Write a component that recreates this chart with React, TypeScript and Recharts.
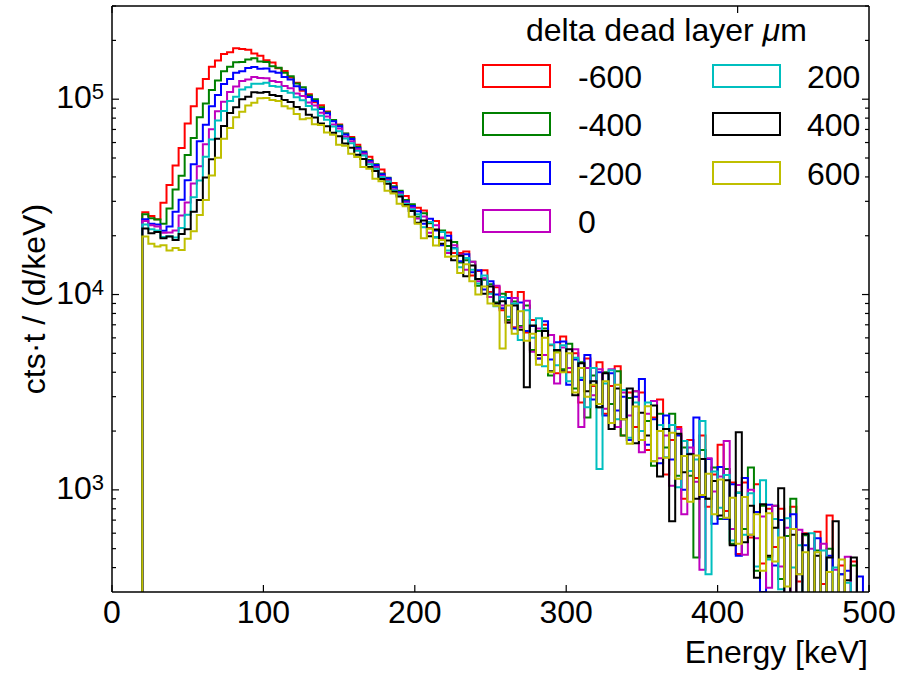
import React from "react";
import { LineChart, Line, XAxis, YAxis, Legend } from "recharts";

const FONT = '"Liberation Sans", Arial, Helvetica, sans-serif';

// histogram bin edges [keV], 4 keV wide
const binEdges = [
  20, 24, 28, 32, 36, 40, 44, 48, 52, 56,
  60, 64, 68, 72, 76, 80, 84, 88, 92, 96,
  100, 104, 108, 112, 116, 120, 124, 128, 132, 136,
  140, 144, 148, 152, 156, 160, 164, 168, 172, 176,
  180, 184, 188, 192, 196, 200, 204, 208, 212, 216,
  220, 224, 228, 232, 236, 240, 244, 248, 252, 256,
  260, 264, 268, 272, 276, 280, 284, 288, 292, 296,
  300, 304, 308, 312, 316, 320, 324, 328, 332, 336,
  340, 344, 348, 352, 356, 360, 364, 368, 372, 376,
  380, 384, 388, 392, 396, 400, 404, 408, 412, 416,
  420, 424, 428, 432, 436, 440, 444, 448, 452, 456,
  460, 464, 468, 472, 476, 480, 484, 488, 492, 496,
  500,
];

const deltaLabels = ["-600", "-400", "-200", "0", "200", "400", "600"];

// cts*t / (d/keV) per bin
const countsM600 = [
  26400, 25200, 24300, 29500, 36400, 45800, 56200, 75000, 92000, 113500,
  127000, 146500, 158000, 170500, 174000, 182500, 180500, 179000, 171500, 167000,
  158500, 154000, 144000, 139500, 129000, 121500, 110500, 106000, 96500, 93000,
  86500, 77500, 74200, 66500, 64000, 58500, 52800, 50800, 45200, 43600,
  38700, 37200, 33100, 31900, 28600, 27800, 26900, 21900, 23800, 19400,
  20800, 16300, 16300, 16600, 12500, 13200, 13300, 10300, 10900, 8300,
  10300, 6800, 10300, 6400, 7400, 4700, 7000, 5500, 3950, 6100,
  4000, 5000, 2800, 4700, 3400, 4500, 2450, 3400, 4300, 1900,
  3150, 2100, 3150, 1600, 2350, 2900, 1200, 1800, 2100, 900,
  1800, 1150, 1900, 820, 1200, 1700, 780, 1090, 470, 1090,
  570, 1070, 420, 800, 510, 800, 270, 820, 340, 600,
  255, 610, 330, 740, 215, 410, 180, 430, 190, 125,
];
const countsM400 = [
  25800, 24600, 24200, 23000, 27600, 34500, 40600, 51800, 63300, 80800,
  95000, 111500, 124500, 139000, 146500, 154500, 155000, 159500, 162000, 156000,
  155000, 147500, 145000, 136500, 131000, 120500, 115000, 104500, 100000, 91000,
  85800, 78200, 73600, 66800, 63200, 57100, 54000, 48800, 46500, 41700,
  39600, 35800, 34000, 30500, 29000, 25000, 26100, 23200, 19600, 21300,
  17700, 18600, 14600, 15000, 14700, 11100, 11900, 11300, 9100, 10100,
  7400, 9200, 6900, 8800, 5200, 6500, 6700, 3850, 5100, 4150,
  5600, 3300, 4500, 2350, 3850, 2650, 4000, 2750, 4050, 1900,
  2950, 3200, 1800, 2250, 1330, 2450, 1650, 2450, 1180, 1650,
  1180, 450, 1600, 900, 1300, 710, 1280, 530, 970, 630,
  1300, 385, 830, 450, 830, 350, 580, 900, 240, 585,
  290, 490, 215, 500, 260, 370, 190, 410, 180, 125,
];
const countsM200 = [
  24300, 23000, 22800, 21200, 22300, 26500, 30600, 38500, 46500, 61000,
  74000, 92000, 105000, 119500, 127000, 136500, 139000, 144500, 146000, 143000,
  143500, 138500, 136500, 130000, 126000, 116500, 112000, 102500, 98000, 89000,
  84800, 77000, 72800, 66000, 62600, 56200, 53500, 48300, 46000, 41300,
  39400, 35400, 33500, 30000, 28400, 26700, 23000, 24400, 21300, 17900,
  20000, 17300, 14800, 16100, 13000, 13300, 10600, 11700, 10000, 8500,
  9600, 6700, 9100, 6500, 6900, 4700, 7300, 4650, 5700, 5750,
  3450, 4650, 3650, 4900, 2900, 4000, 2400, 3950, 2550, 3000,
  1800, 3000, 3700, 1700, 2300, 1370, 2400, 1430, 1900, 1000,
  1530, 2350, 920, 1440, 670, 1310, 710, 1070, 460, 1150,
  590, 770, 300, 840, 410, 700, 275, 750, 370, 520,
  235, 565, 275, 460, 175, 370, 385, 190, 360, 110,
];
const counts0 = [
  23800, 22600, 22300, 20700, 20800, 21300, 25400, 29600, 37000, 45400,
  58800, 70200, 86800, 97000, 109000, 116000, 124000, 126000, 130000, 128500,
  128000, 124000, 122500, 117000, 113800, 107000, 103800, 96200, 92800, 85200,
  81600, 74300, 70800, 64300, 61000, 55400, 52600, 47400, 45000, 40500,
  38400, 34600, 32900, 29600, 27800, 24500, 25100, 20700, 22600, 19600,
  16300, 17900, 16000, 13400, 14700, 11700, 12100, 9700, 11100, 8800,
  7200, 9600, 6800, 9300, 5100, 6700, 4900, 6200, 3500, 5350,
  4200, 5250, 2100, 4200, 3050, 4150, 2600, 4150, 2100, 3150,
  2400, 3200, 1560, 2450, 2850, 1450, 1900, 1050, 2050, 750,
  1650, 1100, 390, 1450, 980, 1170, 1780, 630, 1060, 465,
  1000, 565, 730, 315, 830, 405, 640, 280, 625, 280,
  500, 210, 530, 260, 390, 190, 455, 200, 160, 110,
];
const countsP200 = [
  22800, 21600, 21300, 19700, 19900, 19600, 21900, 25600, 31500, 38400,
  50700, 62200, 77800, 87000, 98000, 103000, 112000, 115000, 120000, 120000,
  121500, 117000, 115800, 110000, 107800, 102200, 98800, 92200, 88600, 82300,
  78600, 72400, 68600, 62900, 59500, 54400, 51500, 46500, 44000, 40000,
  37900, 34100, 32400, 29200, 27300, 25800, 22100, 23500, 19700, 20900,
  16800, 17200, 13800, 15400, 13400, 11400, 12500, 10100, 8700, 9700,
  7700, 9000, 5850, 8300, 6000, 7550, 4300, 5550, 4350, 5500,
  3600, 4750, 3750, 2650, 4200, 1280, 3500, 4100, 2300, 3250,
  1850, 2800, 2000, 2800, 1400, 2150, 1470, 2150, 1030, 1780,
  1250, 1430, 2250, 370, 1240, 810, 1190, 550, 965, 590,
  960, 405, 1120, 440, 710, 310, 715, 400, 520, 235,
  600, 280, 490, 205, 400, 235, 335, 175, 145, 110,
];
const countsP400 = [
  21800, 20600, 20900, 19400, 19800, 19000, 20400, 21600, 26500, 30500,
  39700, 49200, 62800, 73000, 85000, 91000, 100000, 103000, 108500, 108000,
  109000, 105000, 103800, 99000, 96800, 91200, 88700, 83200, 80700, 75200,
  72600, 67300, 64600, 59400, 56500, 52000, 49400, 45000, 42900, 39000,
  36900, 33600, 31800, 28700, 26800, 23300, 23900, 19900, 21500, 18200,
  18900, 15000, 15800, 12400, 14100, 12000, 10100, 11000, 9000, 9250,
  7200, 8800, 6600, 3350, 6950, 4900, 6500, 4050, 5200, 4050,
  5250, 3050, 4450, 3200, 3600, 2650, 3950, 2050, 3300, 2300,
  3300, 1730, 2480, 1900, 2700, 1170, 2050, 690, 1940, 1230,
  1520, 900, 1440, 900, 1110, 740, 1120, 520, 1970, 540,
  830, 355, 845, 460, 640, 1020, 285, 590, 290, 595,
  210, 460, 260, 450, 690, 200, 345, 450, 155, 110,
];
const countsP600 = [
  19800, 18200, 17600, 17900, 16800, 17300, 16900, 19300, 21100, 25500,
  30500, 40700, 50200, 62800, 71200, 80800, 86200, 92800, 96000, 101000,
  101500, 99000, 97800, 92000, 89600, 84000, 79000, 80000, 74500, 73800,
  67500, 65800, 58500, 57800, 52600, 50600, 45000, 44000, 39200, 38000,
  34000, 32900, 29200, 28300, 25000, 23000, 19400, 21700, 17800, 19000,
  15600, 15700, 12900, 14300, 11700, 10000, 11000, 9000, 8750, 5300,
  8800, 6300, 8200, 5800, 6300, 4370, 6000, 4000, 5050, 4000,
  5000, 3150, 4200, 3000, 3450, 2750, 3600, 2200, 3450, 2300,
  1720, 2670, 1800, 2680, 1400, 2000, 1460, 1960, 1140, 1490,
  870, 1500, 940, 1210, 750, 1130, 720, 910, 530, 920,
  590, 750, 385, 760, 430, 570, 320, 630, 370, 480,
  240, 480, 275, 380, 185, 440, 190, 295, 140, 105,
];

const energyTicks = [0, 100, 200, 300, 400, 500];
const energyDomain = [0, 500];
const countTicks = [
  400, 500, 600, 700, 800, 900,
  1000, 2000, 3000, 4000, 5000, 6000, 7000, 8000, 9000,
  10000, 20000, 30000, 40000, 50000, 60000, 70000, 80000, 90000,
  100000, 200000, 300000,
];
const decadeTicks = [1000, 10000, 100000];
const countDomain = [300, 300000];
// stands in for the zero baseline of the step histogram (off-scale on log axis)
const HIST_FLOOR = 1;

const series = [
  { key: "dlM600", label: deltaLabels[0], color: "#ff0000", counts: countsM600 },
  { key: "dlM400", label: deltaLabels[1], color: "#008000", counts: countsM400 },
  { key: "dlM200", label: deltaLabels[2], color: "#0000ff", counts: countsM200 },
  { key: "dl0", label: deltaLabels[3], color: "#bf00bf", counts: counts0 },
  { key: "dlP200", label: deltaLabels[4], color: "#00bfbf", counts: countsP200 },
  { key: "dlP400", label: deltaLabels[5], color: "#000000", counts: countsP400 },
  { key: "dlP600", label: deltaLabels[6], color: "#bfbf00", counts: countsP600 },
];

const firstRow: Record<string, number> = { e: binEdges[0] };
series.forEach((s) => (firstRow[s.key] = HIST_FLOOR));

const rows = [
  firstRow,
  ...binEdges.map((e, i) => {
    const row: Record<string, number> = { e };
    series.forEach((s) => {
      row[s.key] = s.counts[Math.min(i, s.counts.length - 1)];
    });
    return row;
  }),
];

const axisLine = { stroke: "#000", strokeWidth: 1.5 };

function BottomTick({ x, y, payload }: any) {
  return (
    <g>
      <line x1={x} x2={x} y1={y} y2={y - 7} stroke="#000" strokeWidth={1.2} />
      <text x={x} y={y + 31} textAnchor="middle" fontSize={32} fontFamily={FONT} fill="#000">
        {payload.value}
      </text>
    </g>
  );
}

function TopTick({ x, y }: any) {
  return <line x1={x} x2={x} y1={y} y2={y + 7} stroke="#000" strokeWidth={1.2} />;
}

function LeftTick({ x, y, payload }: any) {
  const v = payload.value;
  const major = decadeTicks.includes(v);
  return (
    <g>
      <line x1={x} x2={x + (major ? 7 : 4)} y1={y} y2={y} stroke="#000" strokeWidth={1.2} />
      {major && (
        <text x={x - 8} y={y + 9} textAnchor="end" fontSize={32} fontFamily={FONT} fill="#000">
          10
          <tspan dy={-9} fontSize={22}>
            {Math.round(Math.log10(v))}
          </tspan>
        </text>
      )}
    </g>
  );
}

function RightTick({ x, y, payload }: any) {
  const major = decadeTicks.includes(payload.value);
  return <line x1={x} x2={x - (major ? 7 : 4)} y1={y} y2={y} stroke="#000" strokeWidth={1.2} />;
}

function YTitle({ viewBox }: any) {
  const cy = viewBox.y + viewBox.height / 2;
  return (
    <text
      x={45}
      y={cy}
      transform={`rotate(-90, 45, ${cy})`}
      textAnchor="middle"
      fontSize={32}
      fontFamily={FONT}
      fill="#000"
    >
      cts·t / (d/keV)
    </text>
  );
}

function XTitle({ viewBox }: any) {
  return (
    <text
      x={viewBox.x + viewBox.width - 1}
      y={viewBox.y + 71}
      textAnchor="end"
      fontSize={32}
      fontFamily={FONT}
      fill="#000"
    >
      Energy [keV]
    </text>
  );
}

function DeadLayerLegend() {
  return (
    <div style={{ position: "relative", width: 898, height: 250, fontFamily: FONT, color: "#000" }}>
      <div
        style={{
          position: "absolute",
          left: 526,
          top: 14,
          fontSize: 32,
          lineHeight: "32px",
          whiteSpace: "nowrap",
        }}
      >
        delta dead layer <span style={{ fontStyle: "italic" }}>μ</span>m
      </div>
      {series.map((s, i) => {
        const col = i < 4 ? 0 : 1;
        const row = col === 0 ? i : i - 4;
        const top = 64 + row * 48.33;
        const left = col === 0 ? 482 : 712;
        return (
          <React.Fragment key={s.key}>
            <div
              style={{
                position: "absolute",
                left,
                top,
                width: 69,
                height: 24,
                boxSizing: "border-box",
                border: `2px solid ${s.color}`,
                background: "#fff",
              }}
            />
            <div
              style={{
                position: "absolute",
                left: left + (col === 0 ? 96 : 95),
                top: top - 3,
                fontSize: 32,
                lineHeight: "32px",
                whiteSpace: "nowrap",
              }}
            >
              {s.label}
            </div>
          </React.Fragment>
        );
      })}
    </div>
  );
}

export default function App() {
  return (
    <div
      style={{
        position: "absolute",
        left: 0,
        top: 0,
        width: 898,
        height: 675,
        background: "#fff",
        fontFamily: FONT,
      }}
    >
      <LineChart width={898} height={675} data={rows} margin={{ top: 5, right: 28, bottom: 0, left: 0 }}>
        <XAxis
          dataKey="e"
          type="number"
          domain={energyDomain}
          ticks={energyTicks}
          interval={0}
          tick={(p: any) => <BottomTick {...p} />}
          tickLine={false}
          tickSize={0}
          tickMargin={0}
          height={83}
          axisLine={axisLine}
          label={(p: any) => <XTitle {...p} />}
        />
        <XAxis
          xAxisId="top"
          orientation="top"
          type="number"
          domain={energyDomain}
          ticks={energyTicks}
          interval={0}
          tick={(p: any) => <TopTick {...p} />}
          tickLine={false}
          tickSize={0}
          tickMargin={0}
          height={1}
          axisLine={axisLine}
        />
        <YAxis
          type="number"
          scale="log"
          domain={countDomain}
          allowDataOverflow
          ticks={countTicks}
          interval={0}
          tick={(p: any) => <LeftTick {...p} />}
          tickLine={false}
          tickSize={0}
          tickMargin={0}
          width={112}
          axisLine={axisLine}
          label={(p: any) => <YTitle {...p} />}
        />
        <YAxis
          yAxisId="right"
          orientation="right"
          type="number"
          scale="log"
          domain={countDomain}
          allowDataOverflow
          ticks={countTicks}
          interval={0}
          tick={(p: any) => <RightTick {...p} />}
          tickLine={false}
          tickSize={0}
          tickMargin={0}
          width={1}
          axisLine={axisLine}
        />
        <Legend
          layout="vertical"
          align="center"
          verticalAlign="middle"
          wrapperStyle={{ left: 0, top: 0, width: 898, height: 250 }}
          content={() => <DeadLayerLegend />}
        />
        {series.map((s) => (
          <Line
            key={s.key}
            type="stepAfter"
            dataKey={s.key}
            name={s.label}
            stroke={s.color}
            strokeWidth={2}
            dot={false}
            activeDot={false}
            isAnimationActive={false}
          />
        ))}
      </LineChart>
    </div>
  );
}
